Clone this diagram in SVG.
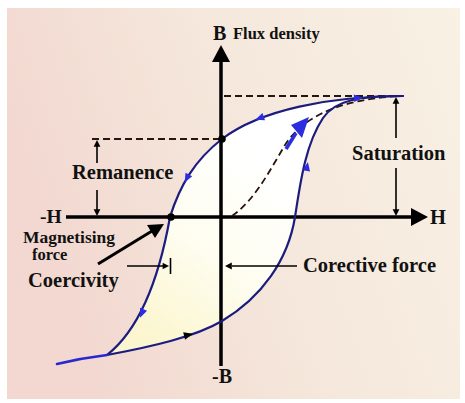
<svg xmlns="http://www.w3.org/2000/svg" width="465" height="403" viewBox="0 0 465 403">
  <defs>
    <linearGradient id="bg" x1="0" y1="0.3" x2="1" y2="0">
      <stop offset="0" stop-color="#f2d8d0"/>
      <stop offset="0.45" stop-color="#f5e7db"/>
      <stop offset="1" stop-color="#f8f1e4"/>
    </linearGradient>
    <linearGradient id="loopfill" x1="0.1" y1="0.9" x2="0.6" y2="0.3">
      <stop offset="0" stop-color="#fbf6cf"/>
      <stop offset="0.5" stop-color="#fefdf0"/>
      <stop offset="1" stop-color="#ffffff"/>
    </linearGradient>
    <path id="tri" d="M5 0 L-4 -3.8 L-4 3.8 Z"/>
    <path id="tinyhead" d="M0 0 L-8 -4 L-8 4 Z"/>
  </defs>
  <style>
    .lbl { font-family: "Liberation Serif", "Times New Roman", serif; font-weight: bold; fill: #111; }
    .axis { stroke: #000; stroke-width: 3.5; fill: none; }
    .curve { stroke: #1c1c7e; stroke-width: 2.2; fill: none; stroke-linecap: round; }
    .dash { stroke: #2a1410; stroke-width: 1.8; fill: none; stroke-dasharray: 7 4; }
    .thin { stroke: #000; stroke-width: 1.6; fill: none; }
    .bluehead { fill: #2d2de0; }
    .blackhead { fill: #000; }
  </style>

  <rect x="0" y="0" width="465" height="403" fill="#ffffff"/>
  <rect x="7" y="8" width="453" height="391" fill="url(#bg)"/>

  <!-- loop interior -->
  <g id="loop-fill">
    <path d="M403 96 C330 96 260 110 222 139 C195 160 180 185 170 217 C162 262 145 325 107 355 C150 347 195 337 222 321 C262 297 288 260 295 217 C300 185 305 145 323 118 C335 100 360 96 403 96 Z" fill="url(#loopfill)"/>
  </g>

  <!-- axes -->
  <g id="axes">
    <line class="axis" x1="221" y1="58" x2="221" y2="366"/>
    <path d="M221 45 L230 62 L212 62 Z" fill="#000"/>
    <line class="axis" x1="66" y1="217" x2="414" y2="217"/>
    <path d="M428 217 L411 208 L411 226 Z" fill="#000"/>
  </g>

  <g id="connectors">
    <!-- dashed reference lines -->
    <line class="dash" x1="224" y1="96" x2="403" y2="96"/>
    <line class="dash" x1="92" y1="139" x2="220" y2="139" stroke="#5a2318"/>
    <!-- initial magnetisation curve -->
    <path class="dash" d="M232 216 C255 200 270 170 285 145 C300 122 330 100 400 96" stroke="#111"/>
    <line x1="286" y1="149" x2="296" y2="133" stroke="#2d2de0" stroke-width="3.5"/>
    <path d="M309 117 L291 125 L302 138 Z" class="bluehead"/>
    <!-- hysteresis branches -->
    <path class="curve" d="M403 96 C330 96 260 110 222 139 C195 160 180 185 170 217 C162 262 145 325 107 355"/>
    <path class="curve" d="M107 355 C150 347 195 337 222 321 C262 297 288 260 295 217 C300 185 305 145 323 118 C335 100 360 96 403 96"/>
    <path d="M107 355 Q82 358 57 364" stroke="#2828d0" stroke-width="2.6" fill="none" stroke-linecap="round"/>
    <!-- direction arrows on curve -->
    <use href="#tri" class="bluehead" transform="translate(260 118) rotate(160)"/>
    <use href="#tri" class="bluehead" transform="translate(187 178) rotate(118)"/>
    <use href="#tri" class="bluehead" transform="translate(142 313) rotate(112)"/>
    <use href="#tri" class="blackhead" transform="translate(188 335) rotate(-14)"/>
    <use href="#tri" class="bluehead" transform="translate(307 167) rotate(-80)"/>
    <use href="#tri" class="bluehead" transform="translate(358 98) rotate(-3)"/>
    <!-- remanence arrows -->
    <line class="thin" x1="97" y1="146" x2="97" y2="163"/>
    <use href="#tinyhead" class="blackhead" transform="translate(97 140) rotate(-90) scale(0.85)"/>
    <line class="thin" x1="97" y1="190" x2="97" y2="210"/>
    <use href="#tinyhead" class="blackhead" transform="translate(97 216) rotate(90) scale(0.85)"/>
    <!-- saturation arrows -->
    <line class="thin" x1="396" y1="103" x2="396" y2="138"/>
    <use href="#tinyhead" class="blackhead" transform="translate(396 97) rotate(-90) scale(0.85)"/>
    <line class="thin" x1="396" y1="168" x2="396" y2="210"/>
    <use href="#tinyhead" class="blackhead" transform="translate(396 216) rotate(90) scale(0.85)"/>
    <!-- coercivity pointer -->
    <line x1="98" y1="264" x2="152" y2="231" stroke="#000" stroke-width="3"/>
    <path d="M164 224 L147 225 L155 238 Z" fill="#000"/>
    <!-- coercivity bracket -->
    <line class="thin" x1="127" y1="266" x2="163" y2="266"/>
    <use href="#tinyhead" class="blackhead" transform="translate(169 266) scale(0.8)"/>
    <line class="thin" x1="170.5" y1="258" x2="170.5" y2="274"/>
    <!-- corrective force arrow -->
    <line class="thin" x1="297" y1="266" x2="232" y2="266"/>
    <use href="#tinyhead" class="blackhead" transform="translate(225 266) rotate(180) scale(0.85)"/>
  </g>

  <g id="points">
    <circle cx="222" cy="139" r="3.8" fill="#000"/>
    <circle cx="171" cy="217" r="3.8" fill="#000"/>
  </g>

  <g id="labels">
    <text class="lbl" x="213" y="40" font-size="20">B</text>
    <text class="lbl" x="233" y="39" font-size="16.5">Flux density</text>
    <text class="lbl" x="430" y="224" font-size="20.5">H</text>
    <text class="lbl" x="40" y="223" font-size="19.5">-H</text>
    <text class="lbl" x="212" y="383" font-size="20">-B</text>
    <text class="lbl" x="72" y="179" font-size="20.5">Remanence</text>
    <text class="lbl" x="352" y="160" font-size="20.5">Saturation</text>
    <text class="lbl" x="23" y="243" font-size="16" textLength="92" lengthAdjust="spacingAndGlyphs">Magnetising</text>
    <text class="lbl" x="32" y="260" font-size="16.5">force</text>
    <text class="lbl" x="28" y="287" font-size="20.5">Coercivity</text>
    <text class="lbl" x="303" y="272" font-size="20.5">Corective force</text>
  </g>
</svg>
